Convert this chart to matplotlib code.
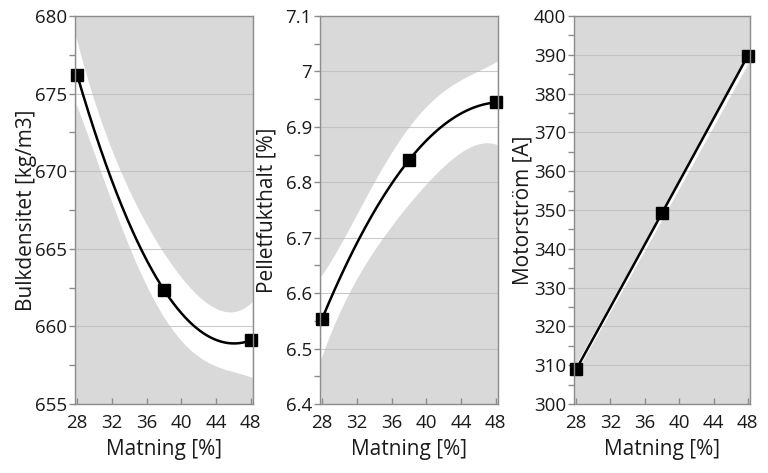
import numpy as np
import matplotlib
matplotlib.use("Agg")
import matplotlib.pyplot as plt
from matplotlib.ticker import MultipleLocator, FuncFormatter

plt.rcParams['font.family'] = ['Open Sans', 'DejaVu Sans']

# ---- data ----
matning = [28, 38, 48]
bulk = [676.2, 662.35, 659.1]
fukt = [6.554, 6.84, 6.944]
motor = [308.9, 349.2, 389.8]

band_x = [28, 30, 32, 34, 36, 38, 40, 42, 44, 46, 48]
bulk_upper = [678.4, 674.35, 671.4, 668.85, 666.6, 664.6, 663.15, 662.0, 661.1, 661.0, 661.5]
bulk_lower = [674.2, 671.0, 667.98, 665.3, 662.62, 660.45, 659.05, 658.15, 657.45, 657.05, 656.75]
fukt_upper = [6.633, 6.687, 6.743, 6.800, 6.853, 6.899, 6.939, 6.967, 6.983, 7.000, 7.018]
fukt_lower = [6.488, 6.565, 6.627, 6.676, 6.723, 6.763, 6.796, 6.828, 6.854, 6.871, 6.868]
motor_band_x = [28, 38, 48]
motor_upper = [310.4, 350.0, 390.3]
motor_lower = [308.2, 347.6, 387.7]

xlabel = "Matning [%]"
ylabels = ["Bulkdensitet [kg/m3]", "Pelletfukthalt [%]", "Motorström [A]"]
ylims = [(655, 680), (6.4, 7.1), (300, 400)]
ymajor = [5, 0.1, 10]
xticks = [28, 32, 36, 40, 44, 48]

W, H = 768, 473
fig = plt.figure(figsize=(W / 100, H / 100), dpi=100)

rects = [
    [75 / W, (H - 404) / H, 178 / W, 388 / H],
    [320 / W, (H - 404) / H, 178 / W, 388 / H],
    [574 / W, (H - 404) / H, 176 / W, 388 / H],
]
ylabel_x = [-0.275, -0.297, -0.29]

panels = [
    (matning, bulk, band_x, bulk_upper, bulk_lower, 4),
    (matning, fukt, band_x, fukt_upper, fukt_lower, 4),
    (matning, motor, motor_band_x, motor_upper, motor_lower, 2),
]

bg = '#d9d9d9'
fs_tick = 13.5
fs_lab = 15

for i, (rect, (mx, my, bx, bu, bl, deg)) in enumerate(zip(rects, panels)):
    ax = fig.add_axes(rect)
    ax.set_facecolor(bg)
    ax.set_xlim(27.75, 48.25)
    ax.set_ylim(*ylims[i])

    xs = np.linspace(27.85, 48.15, 300)
    pu = np.polyfit(bx, bu, deg)
    pl = np.polyfit(bx, bl, deg)
    ax.fill_between(xs, np.polyval(pl, xs), np.polyval(pu, xs),
                    color='white', lw=0, zorder=1)

    pc = np.polyfit(mx, my, 2)
    xc = np.linspace(mx[0], mx[-1], 300)
    ax.plot(xc, np.polyval(pc, xc), color='black', lw=1.8, zorder=3)
    ax.plot(mx, my, 's', color='black', ms=9, zorder=4, clip_on=False)

    ax.yaxis.set_major_locator(MultipleLocator(ymajor[i]))
    ax.yaxis.set_minor_locator(MultipleLocator(ymajor[i] / 2))
    ax.yaxis.set_major_formatter(FuncFormatter(lambda v, p: ('%g' % round(v, 3))))
    ax.set_xticks(xticks)
    ax.grid(axis='y', which='major', color='#bdbdbd', lw=0.8, alpha=0.8)
    ax.set_axisbelow(False)
    for ln in ax.get_ygridlines():
        ln.set_zorder(2)

    ax.tick_params(axis='y', which='both', direction='out', length=4.3,
                   color='#8c8c8c', width=1, labelsize=fs_tick, labelcolor='#1a1a1a', pad=1.5)
    ax.tick_params(axis='x', which='both', direction='in', length=4.5,
                   color='#8c8c8c', width=1, labelsize=fs_tick, labelcolor='#1a1a1a', pad=7)
    for s in ax.spines.values():
        s.set_color('#8c8c8c')
        s.set_linewidth(1)
        s.set_zorder(5)

    ax.set_xlabel(xlabel, fontsize=fs_lab, color='#1a1a1a', labelpad=5)
    ax.set_ylabel(ylabels[i], fontsize=fs_lab, color='#1a1a1a')
    ax.yaxis.set_label_coords(ylabel_x[i], 0.5)
    ax.yaxis.label.set_va('center')

fig.savefig("out.png", dpi=100, facecolor='white')
